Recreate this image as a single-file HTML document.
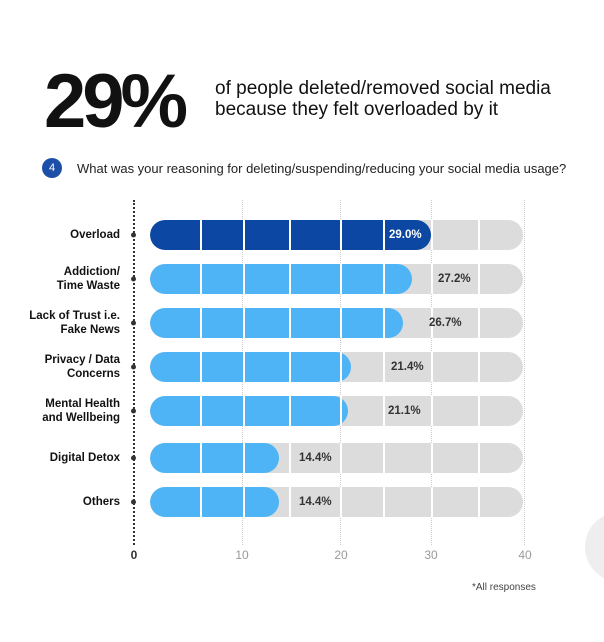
<!DOCTYPE html>
<html><head><style>
body{margin:0;width:604px;height:642px;background:#fff;font-family:"Liberation Sans",sans-serif;position:relative;overflow:hidden;color:#111}
.a{position:absolute}
.big{left:44px;top:64px;font-size:76px;font-weight:bold;letter-spacing:-4px;line-height:1}
.sub{left:215px;top:78px;font-size:19px;line-height:21px;color:#111}
.num{left:42px;top:158px;width:20px;height:20px;border-radius:50%;background:#1d4fa8;color:#fff;font-size:11px;text-align:center;line-height:20px}
.q{left:77px;top:161px;font-size:13px;color:#222}
.lab{right:484px;font-size:11.5px;font-weight:bold;text-align:right;line-height:14px;transform:translateY(-50%)}
.bar{left:150px;width:373px;height:30px;border-radius:15px;background:#dcdcdc;overflow:hidden;transform:translateY(-50%)}
.fill{position:absolute;left:0;top:0;height:30px;border-radius:15px;background:#4fb4f5}
.sep{position:absolute;top:0;width:1.5px;height:30px;background:#fff}
.val{font-size:11.5px;font-weight:bold;color:#333;transform:translateY(-50%)}
.dot{left:131px;width:5px;height:5px;border-radius:50%;background:#333;transform:translateY(-50%)}
.tick{top:548px;font-size:12px;color:#999;transform:translateX(-50%)}
</style></head><body>
<div class="a big">29%</div>
<div class="a sub">of people deleted/removed social media<br>because they felt overloaded by it</div>
<div class="a num">4</div>
<div class="a q">What was your reasoning for deleting/suspending/reducing your social media usage?</div>
<div class="a" style="left:133px;top:200px;height:345px;border-left:2px dotted #333"></div>
<div class="a" style="left:242px;top:200px;height:345px;border-left:1px dotted #ccc"></div>
<div class="a" style="left:340px;top:200px;height:345px;border-left:1px dotted #ccc"></div>
<div class="a" style="left:431px;top:200px;height:345px;border-left:1px dotted #ccc"></div>
<div class="a" style="left:524px;top:200px;height:345px;border-left:1px dotted #ccc"></div>

<div id="rows"></div>
<script>
var d=[["Overload",235,281,"29.0%"],["Addiction/<br>Time Waste",279,262,"27.2%"],["Lack of Trust i.e.<br>Fake News",323,253,"26.7%"],["Privacy / Data<br>Concerns",367,201,"21.4%"],["Mental Health<br>and Wellbeing",411,198,"21.1%"],["Digital Detox",458,129,"14.4%"],["Others",502,129,"14.4%"]];
var s=[50,93,139,190,233,281,328],h="";
d.forEach(function(r,i){
h+='<div class="a lab" style="top:'+r[1]+'px">'+r[0]+'</div><div class="a dot" style="top:'+r[1]+'px"></div>';
h+='<div class="a bar" style="top:'+r[1]+'px"><div class="fill" style="width:'+r[2]+'px;'+(i==0?'background:#0b47a3':'')+'"></div>';
s.forEach(function(x){h+='<div class="sep" style="left:'+x+'px"></div>'});
h+='</div>';
if(i==0)h+='<div class="a val" style="left:389px;top:'+r[1]+'px;color:#fff">'+r[3]+'</div>';
else h+='<div class="a val" style="left:'+(150+r[2]+(i<3?26:i<5?40:20))+'px;top:'+r[1]+'px">'+r[3]+'</div>';
});
document.getElementById('rows').innerHTML=h;
</script>
<div class="a tick" style="left:134px;color:#333;font-weight:bold">0</div>
<div class="a tick" style="left:242px">10</div>
<div class="a tick" style="left:341px">20</div>
<div class="a tick" style="left:431px">30</div>
<div class="a tick" style="left:525px">40</div>
<div class="a" style="left:472px;top:582px;font-size:10px;color:#444">*All responses</div>
<div class="a" style="left:585px;top:512px;width:70px;height:70px;border-radius:50%;background:#eee"></div>
</body></html>
